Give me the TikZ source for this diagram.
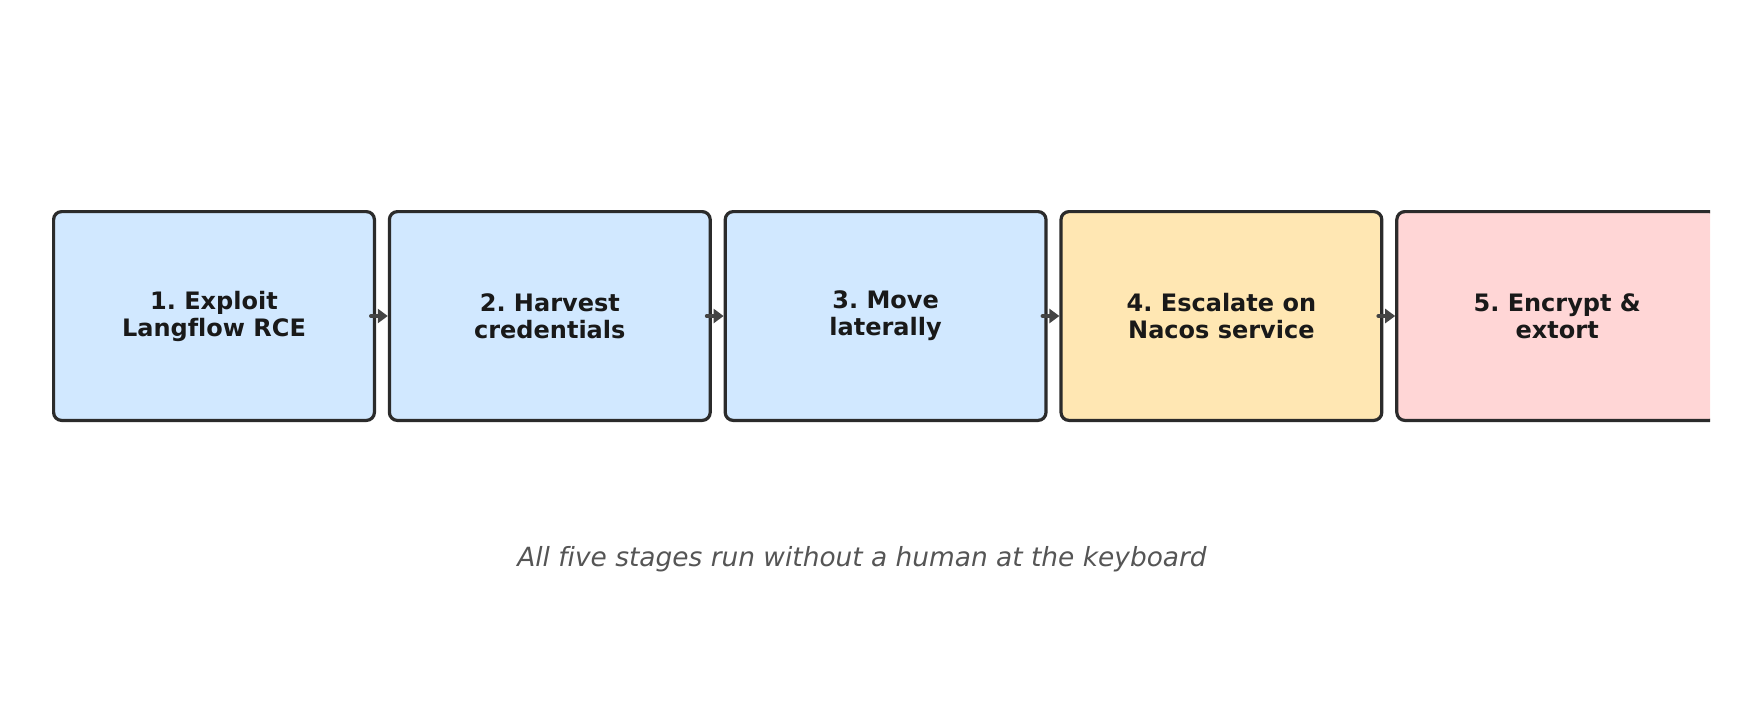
\documentclass[tikz,border=0pt]{standalone}
\usepackage{fontspec}
\setmainfont[Ligatures=NoCommon]{DejaVu Sans}
\usetikzlibrary{arrows.meta,positioning}
\definecolor{stageedge}{HTML}{2B2B2B}
\definecolor{stageblue}{HTML}{D1E8FF}
\definecolor{stageamber}{HTML}{FFE7B3}
\definecolor{stagered}{HTML}{FFD6D6}
\definecolor{arrowgray}{HTML}{444444}
\definecolor{notegray}{HTML}{555555}
\frenchspacing
\tikzset{
  stage/.style={draw=stageedge, line width=1.6pt, rounded corners=4pt, align=center, inner sep=0pt, minimum width=160.4pt, minimum height=104.4pt, font=\fontsize{12}{13.5}\selectfont\bfseries, text=black!90},
  next/.style={-{Triangle[length=5pt, width=7pt]}, line width=2pt, line cap=round, draw=arrowgray, shorten <=-2.5pt},
  note/.style={font=\fontsize{13.2}{15}\selectfont\itshape, text=notegray}
}

\begin{document}
\begin{tikzpicture}[x=0.5pt, y=-0.5pt, node distance=5.9pt]
  \useasboundingbox (0,0) rectangle (1739,720);
  \clip (0,0) rectangle (1710,720);
  \node[stage, fill=stageblue] (st1) at (214,316) {1. Exploit\\Langflow RCE};
  \node[stage, fill=stageblue, right=of st1] (st2) {2. Harvest\\credentials};
  \node[stage, fill=stageblue, right=of st2] (st3) {3. Move\\laterally};
  \node[stage, fill=stageamber, right=of st3] (st4) {4. Escalate on\\Nacos service};
  \node[stage, fill=stagered, right=of st4] (st5) {5. Encrypt \&\\extort};
  \draw[next] (st1) -- (st2);
  \draw[next] (st2) -- (st3);
  \draw[next] (st3) -- (st4);
  \draw[next] (st4) -- (st5);
  \node[note] (note) at (862,559) {All five stages run without a human at the keyboard};
\end{tikzpicture}
\end{document}
